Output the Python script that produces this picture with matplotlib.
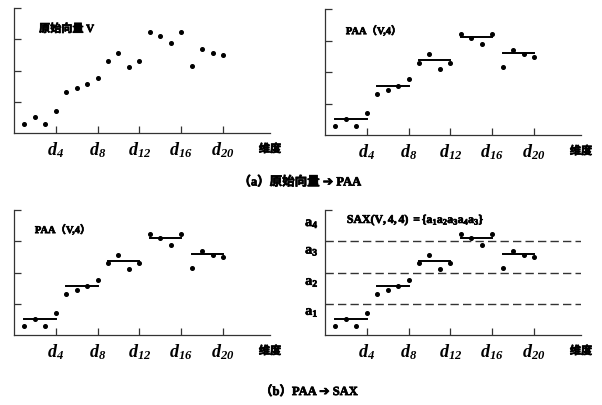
import numpy as np
import matplotlib
matplotlib.use("Agg")
import matplotlib.pyplot as plt
import matplotlib.patheffects as pe

# 数据
dims = np.arange(1, 21)
V = [0.30, 0.50, 0.30, 0.70, 1.30, 1.43, 1.56, 1.77, 2.30, 2.56,
     2.10, 2.30, 3.22, 3.09, 2.89, 3.22, 2.16, 2.69, 2.56, 2.49]
paa = [0.52, 1.56, 2.38, 3.10, 2.60]
breakpoints = [1, 2, 3]
sax_labels = [r"$\mathbf{a_4}$", r"$\mathbf{a_3}$", r"$\mathbf{a_2}$", r"$\mathbf{a_1}$"]
sax_label_y = [3.58, 2.70, 1.70, 0.74]
sax_word = r"$\mathbf{SAX(V,4,4)\ =\{a_1a_2a_3a_4a_3\}}$"
xticks = [4, 8, 12, 16, 20]
xticklabels = [r"$d_{4}$", r"$d_{8}$", r"$d_{12}$", r"$d_{16}$", r"$d_{20}$"]

plt.rcParams['mathtext.fontset'] = 'custom'
plt.rcParams['mathtext.it'] = 'Liberation Serif:italic:bold'
plt.rcParams['mathtext.rm'] = 'Liberation Serif:italic:bold'
plt.rcParams['mathtext.bf'] = 'Liberation Serif:bold'
MIX = ['Liberation Serif', 'Noto Sans CJK SC', 'DejaVu Sans']
CJK = ['Noto Sans CJK SC', 'DejaVu Sans']
# 加粗效果
BOLD = [pe.withStroke(linewidth=0.5, foreground='black')]

fig = plt.figure(figsize=(6.02, 4.05), dpi=100)
W, H = 602.0, 405.0

def make_ax(left, bottom_px, top_px):
    ax = fig.add_axes([left / W, (H - bottom_px) / H, 256 / W, (bottom_px - top_px) / H])
    ax.set_xlim(0, 24.5)
    ax.set_ylim(0, 4)
    for s in ['top', 'right']:
        ax.spines[s].set_visible(False)
    for s in ['left', 'bottom']:
        ax.spines[s].set_color('#333333')
        ax.spines[s].set_linewidth(0.9)
    ax.set_xticks(xticks)
    ax.set_xticklabels([])
    ax.tick_params(direction='in', length=5, width=0.9, color='#333333')
    ax.set_yticks([1, 2, 3, 4])
    ax.set_yticklabels([])
    for x, lab in zip(xticks, xticklabels):
        ax.text(x, -0.22, lab, ha='center', va='top', fontsize=13, clip_on=False)
    ax.text(24.5, -0.5, "维度", ha='center', va='center', fontsize=8,
            fontweight='bold', family=CJK, clip_on=False, path_effects=BOLD)
    ax.plot(dims, V, 'o', color='black', markersize=2.6, clip_on=False)
    return ax

def draw_paa(ax):
    for i, v in enumerate(paa):
        ax.plot([4 * i + 1, 4 * i + 4], [v, v], color='black', linewidth=1.4)

ax1 = make_ax(14, 133, 8)
ax1.text(2.4, 3.33, "原始向量 V", fontsize=8, fontweight='bold', family=MIX,
         va='center', path_effects=BOLD)

ax2 = make_ax(325, 135, 9)
draw_paa(ax2)
ax2.text(2.0, 3.3, "PAA（V,4）", fontsize=7.5, fontweight='bold', family=MIX,
         va='center', path_effects=BOLD)

ax3 = make_ax(14, 335, 210)
draw_paa(ax3)
ax3.text(2.0, 3.36, "PAA（V,4）", fontsize=7.5, fontweight='bold', family=MIX,
         va='center', path_effects=BOLD)

ax4 = make_ax(325, 335, 210)
draw_paa(ax4)
ax4.set_yticks([4])
for b in breakpoints:
    ax4.plot([0, 24.5], [b, b], color='#333333', linewidth=1.0, linestyle=(0, (6, 3)))
for lab, y in zip(sax_labels, sax_label_y):
    ax4.text(-1.25, y, lab, ha='center', va='center', fontsize=10, clip_on=False,
             path_effects=BOLD)
ax4.text(2.1, 3.68, sax_word, fontsize=8.5, va='center', path_effects=BOLD)

fig.text(0.498, 0.55, "（a）原始向量 ➔ PAA", ha='center', va='center',
         fontsize=9, fontweight='bold', family=MIX, path_effects=BOLD)
fig.text(0.513, 0.032, "（b）PAA ➔ SAX", ha='center', va='center',
         fontsize=9, fontweight='bold', family=MIX, path_effects=BOLD)

fig.savefig("out.png", dpi=100)
